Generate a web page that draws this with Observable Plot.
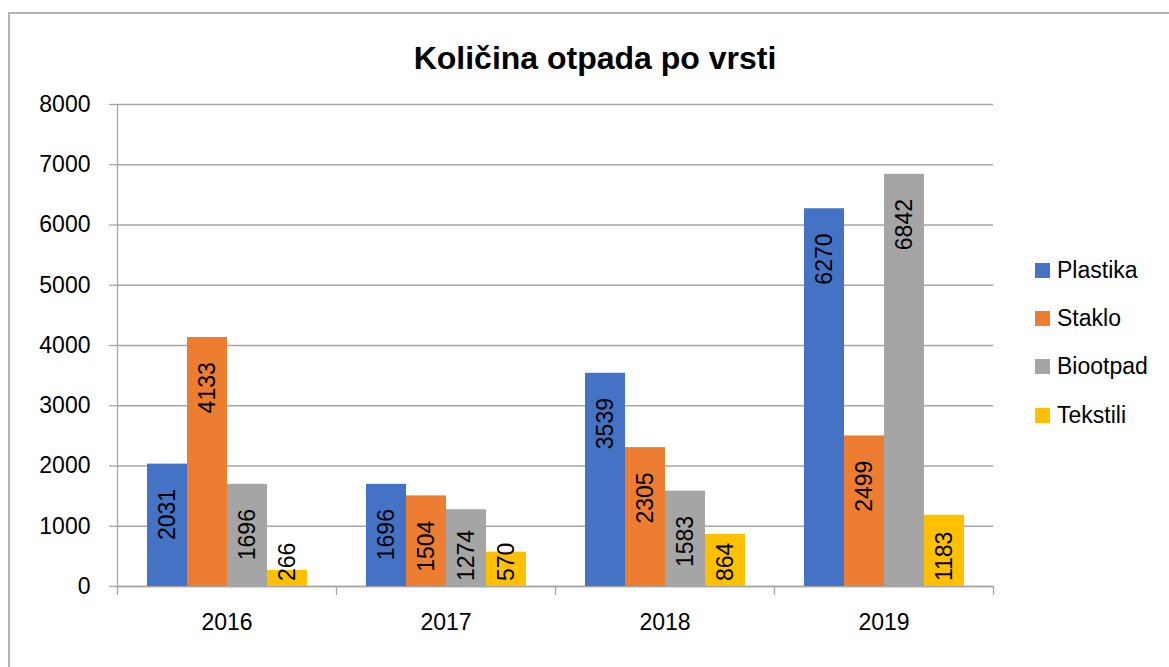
<!DOCTYPE html>
<html>
<head>
<meta charset="utf-8">
<script src="https://cdn.jsdelivr.net/npm/d3@7"></script>
<script src="https://cdn.jsdelivr.net/npm/@observablehq/plot@0.6"></script>
<style>
  html, body { margin: 0; padding: 0; overflow: hidden; background: #fff; width: 1169px; height: 667px; }
  body { font-family: "Liberation Sans", Arial, sans-serif; color: #000; position: relative; }
  #frame { position: absolute; left: 8px; top: 12px; width: 1400px; height: 900px; border: 2px solid #b4b4b4; box-sizing: border-box; }
  #title { position: absolute; left: 0; top: 42px; width: 1190px; text-align: center; font-weight: bold; font-size: 32px; line-height: 32px; }
  .layer { position: absolute; left: 0; top: 0; }
  #legend { position: absolute; left: 1035px; top: 246px; }
  .row { display: flex; align-items: center; height: 48.4px; }
  .sw { width: 15px; height: 15px; margin-right: 7px; }
  .lb { font-size: 23px; line-height: 23px; }
</style>
</head>
<body>
<div id="frame"></div>
<div id="back" class="layer"></div>
<div id="front" class="layer"></div>
<div id="title">Količina otpada po vrsti</div>
<div id="legend"></div>
<script>
const years = ["2016", "2017", "2018", "2019"];
const series = ["Plastika", "Staklo", "Biootpad", "Tekstili"];
const plastika = [2031, 1696, 3539, 6270];
const staklo   = [4133, 1504, 2305, 2499];
const biootpad = [1696, 1274, 1583, 6842];
const tekstili = [266, 570, 864, 1183];
const colors = ["#4472C4", "#ED7D31", "#A5A5A5", "#FFC000"];
const yTicks = [0, 1000, 2000, 3000, 4000, 5000, 6000, 7000, 8000];

const seriesValues = [plastika, staklo, biootpad, tekstili];
const data = years.flatMap((yr, i) => series.map((s, j) => ({year: yr, series: s, value: seriesValues[j][i]})));

const grid = "#a6a6a6";
const FONT = "'Liberation Sans', Arial, sans-serif";
const dims = {width: 1000, height: 640, marginLeft: 117, marginRight: 7, marginTop: 104, marginBottom: 54};
const style = {fontFamily: FONT, fontSize: "23px", color: "#000", background: "transparent", overflow: "visible"};

// Background layer: gridlines, axes, category boundaries (category i spans [i, i+1])
const boundaries = d3.range(years.length + 1);
const centers = years.map((_, i) => i + 0.5);
const back = Plot.plot({
  ...dims, style,
  x: {type: "linear", domain: [0, years.length]},
  y: {domain: [0, 8000]},
  marks: [
    Plot.gridY(yTicks, {stroke: grid, strokeOpacity: 1, strokeWidth: 1.3}),
    Plot.axisY(yTicks, {anchor: "left", tickSize: 8, tickPadding: 19, stroke: grid, strokeWidth: 1.3, fill: "#000", fontSize: 23, label: null, tickFormat: d => String(d)}),
    Plot.ruleX([0], {stroke: grid, strokeWidth: 1.3}),
    Plot.axisX(boundaries, {anchor: "bottom", tickSize: 9, stroke: grid, strokeWidth: 1.3, tickFormat: () => "", label: null}),
    Plot.axisX(centers, {anchor: "bottom", tickSize: 0, tickPadding: 27, fill: "#000", fontSize: 23, label: null, tickFormat: v => years[Math.floor(v)]}),
    Plot.ruleY([0], {stroke: grid, strokeWidth: 1.3})
  ]
});
document.getElementById("back").appendChild(back);

// Foreground layer: grouped bars and their value labels
const front = Plot.plot({
  ...dims, style,
  fx: {domain: years, paddingInner: 0.27, paddingOuter: 0.135, axis: null, label: null},
  x: {domain: series, padding: 0, axis: null},
  y: {domain: [0, 8000], axis: null},
  color: {domain: series, range: colors},
  marks: [
    Plot.barY(data, {fx: "year", x: "series", y: "value", fill: "series"}),
    Plot.text(data, {
      fx: "year", x: "series",
      y: d => Math.max(d.value - (400 + 215 * String(d.value).length), 90),
      text: d => String(d.value),
      rotate: -90, textAnchor: "start", lineAnchor: "middle",
      fill: "#000", fontSize: 23
    })
  ]
});
document.getElementById("front").appendChild(front);

// legend
const legend = document.getElementById("legend");
series.forEach((s, i) => {
  const row = document.createElement("div");
  row.className = "row";
  row.innerHTML = `<div class="sw" style="background:${colors[i]}"></div><div class="lb">${s}</div>`;
  legend.appendChild(row);
});
</script>
</body>
</html>
